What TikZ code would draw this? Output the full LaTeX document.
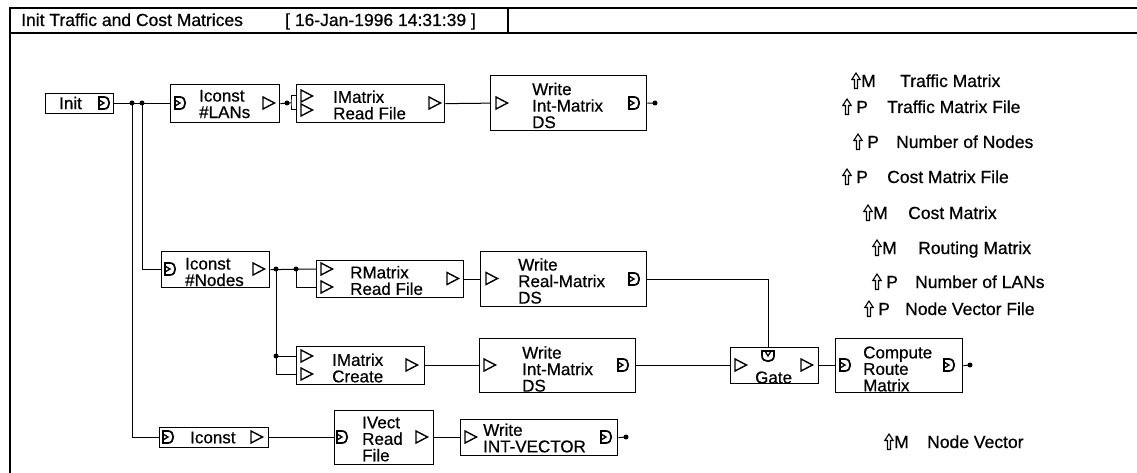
\documentclass[tikz,border=0pt]{standalone}
\usepackage{fontspec}
\setmainfont{Liberation Sans}[FakeBold=0.6]
\newcommand{\blk}[5]{\node[box, minimum width={(#4-#2)*1pt}, minimum height={(#5-#3)*1pt}] (#1) at (#2,#3) {};}
\begin{document}
\begin{tikzpicture}[x=1pt,y=-1pt,
  frame/.style={line width=1.2pt},
  box/.style={draw, line width=1.3pt, inner sep=0pt, anchor=north west},
  lbl/.style={anchor=west, inner sep=0pt, align=left, font=\fontsize{17}{16.5}\selectfont},
  leg/.style={anchor=base west, inner sep=0pt, font=\fontsize{17.5}{17.5}\selectfont},
  hdr/.style={anchor=base west, inner sep=0pt, font=\fontsize{17.5}{17.5}\selectfont},
  wire/.style={line width=1pt},
  jdot/.style={circle, fill, inner sep=0pt, minimum size=5pt},
  pin/.pic={\draw[line width=1.4pt] (-5,-6) -- (6.5,0) -- (-5,6) -- cycle;},
  pout/.pic={\draw[line width=1.7pt] (-5,-6) -- (0,-6) .. controls (7,-6) and (7,6) .. (0,6) -- (-5,6) -- cycle;
             \draw[line width=1.3pt] (-5,-3) -- (0,0) -- (-5,3);},
  uarr/.pic={\draw[line width=1.1pt] (-1.5,7.5) -- (-1.5,-1.5) -- (-4.2,-1.5) -- (0,-8) -- (4.2,-1.5) -- (1.5,-1.5) -- (1.5,7.5) -- cycle;}
]
\useasboundingbox (0,0) rectangle (1137,473);
% frame
\draw[frame] (10,473) -- (10,8) -- (1137,8);
\draw[frame] (10,33) -- (1137,33);
\draw[frame] (508,8) -- (508,33);
\node[hdr] (title) at (21,26) {Init Traffic and Cost Matrices};
\node[hdr] (stamp) at (285,26) {[ 16-Jan-1996 14:31:39 ]};

% boxes
\blk{init}{45}{93}{113}{113}
\blk{lans}{170}{84}{279}{122}
\blk{imrf}{296}{84}{444}{122}
\blk{wimA}{490}{75}{646}{130}
\blk{nodes}{161}{251}{269}{287}
\blk{rmrf}{316}{260}{463}{297}
\blk{wrm}{480}{251}{646}{306}
\blk{imc}{296}{346}{424}{384}
\blk{wimB}{479}{338}{635}{392}
\blk{gate}{730}{347}{818}{383}
\blk{crm}{835}{338}{962}{392}
\blk{icB}{159}{427}{268}{447}
\blk{ivrf}{334}{410}{433}{464}
\blk{wiv}{460}{419}{617}{455}

% box texts
\node[lbl] (tinit) at (59,103) {Init};
\node[lbl] (tlans) at (199,104) {Iconst\\\#LANs};
\node[lbl] (timrf) at (333,105) {IMatrix\\Read File};
\node[lbl] (twimA) at (532,105.5) {Write\\Int-Matrix\\DS};
\node[lbl] (tnodes) at (185,272) {Iconst\\\#Nodes};
\node[lbl] (trmrf) at (350,280.5) {RMatrix\\Read File};
\node[lbl] (twrm) at (518,281) {Write\\Real-Matrix\\DS};
\node[lbl] (timc) at (332,368) {IMatrix\\Create};
\node[lbl] (twimB) at (522,369) {Write\\Int-Matrix\\DS};
\node[lbl] (tgate) at (755,377.5) {Gate};
\node[lbl] (tcrm) at (863,369) {Compute\\Route\\Matrix};
\node[lbl] (ticB) at (190,437.5) {Iconst};
\node[lbl] (tivrf) at (362,439) {IVect\\Read\\File};
\node[lbl] (twiv) at (483,438) {Write\\INT-VECTOR};

% ports
\pic at (104,103) {pout};
\pic at (180,103) {pout};
\pic at (268,103) {pin};
\pic at (306,96) {pin};
\pic at (306,110) {pin};
\pic at (434,103) {pin};
\pic at (501,103) {pin};
\pic at (634,103) {pout};
\pic at (170,269) {pout};
\pic at (258,269) {pin};
\pic at (326,269) {pin};
\pic at (326,287) {pin};
\pic at (452,278.5) {pin};
\pic at (491,278.5) {pin};
\pic at (634,279) {pout};
\pic at (306,356) {pin};
\pic at (306,374) {pin};
\pic at (411,365) {pin};
\pic at (489,365) {pin};
\pic at (623,365) {pout};
\pic at (740,365) {pin};
\pic[rotate=-90] at (768,356) {pout};
\pic at (806,365) {pin};
\pic at (845,365) {pout};
\pic at (949,365) {pout};
\pic at (168,437) {pout};
\pic at (256,437) {pin};
\pic at (342,437) {pout};
\pic at (421,437) {pin};
\pic at (470,437) {pin};
\pic at (606,437) {pout};

% junctions and coordinates
\node[jdot] (j1) at (132,103) {};
\node[jdot] (j2) at (142,103) {};
\node[jdot] (j3) at (287,103) {};
\coordinate (bk) at (291,103);
\coordinate (imrfA) at (296,96);
\coordinate (imrfB) at (296,110);
\node[jdot] (eA) at (655,103) {};
\node[jdot] (j4) at (276,269) {};
\node[jdot] (j5) at (296,269) {};
\coordinate (rmA) at (316,269);
\coordinate (rmB) at (316,287);
\node[jdot] (j6) at (276,356) {};
\coordinate (imcA) at (296,356);
\coordinate (imcB) at (296,374);
\coordinate (gtop) at (768,347);
\node[jdot] (eB) at (970,365) {};
\node[jdot] (eC) at (626,437) {};

% wires
\draw[wire] (init.east) -- (lans.west);
\draw[wire] (j1.center) |- (icB.west);
\draw[wire] (j2.center) |- (nodes.west);
\draw[wire] (lans.east) -- (j3.center) -- (bk);
\draw[wire] (imrfA) -| (bk) |- (imrfB);
\draw[wire] (imrf.east) -- (wimA.west);
\draw[wire] (wimA.east) -- (eA.center);
\draw[wire] (nodes.east) -- (rmA);
\draw[wire] (j5.center) |- (rmB);
\draw[wire] (j4.center) |- (imcB);
\draw[wire] (j6.center) -- (imcA);
\draw[wire] (rmrf.east) -- (wrm.west);
\draw[wire] (wrm.east) -| (gtop);
\draw[wire] (imc.east) -- (wimB.west);
\draw[wire] (wimB.east) -- (gate.west);
\draw[wire] (gate.east) -- (crm.west);
\draw[wire] (crm.east) -- (eB.center);
\draw[wire] (icB.east) -- (ivrf.west);
\draw[wire] (ivrf.east) -- (wiv.west);
\draw[wire] (wiv.east) -- (eC.center);

% legend
\pic at (856,81) {uarr};  \node[leg] (m1) at (861,87) {M}; \node[leg] (n1) at (900,87) {Traffic Matrix};
\pic at (847,107) {uarr}; \node[leg] (m2) at (856,113) {P}; \node[leg] (n2) at (887,113) {Traffic Matrix File};
\pic at (858,142) {uarr}; \node[leg] (m3) at (867,148) {P}; \node[leg] (n3) at (896,148) {Number of Nodes};
\pic at (847,177) {uarr}; \node[leg] (m4) at (856,183) {P}; \node[leg] (n4) at (887,183) {Cost Matrix File};
\pic at (868,213) {uarr}; \node[leg] (m5) at (873,219) {M}; \node[leg] (n5) at (908,219) {Cost Matrix};
\pic at (877,248) {uarr}; \node[leg] (m6) at (882,254) {M}; \node[leg] (n6) at (918,254) {Routing Matrix};
\pic at (877,282) {uarr}; \node[leg] (m7) at (886,288) {P}; \node[leg] (n7) at (915,288) {Number of LANs};
\pic at (869,309) {uarr}; \node[leg] (m8) at (878,315) {P}; \node[leg] (n8) at (905,315) {Node Vector File};
\pic at (889,442) {uarr}; \node[leg] (m9) at (894,448) {M}; \node[leg] (n9) at (927,448) {Node Vector};
\end{tikzpicture}
\end{document}
